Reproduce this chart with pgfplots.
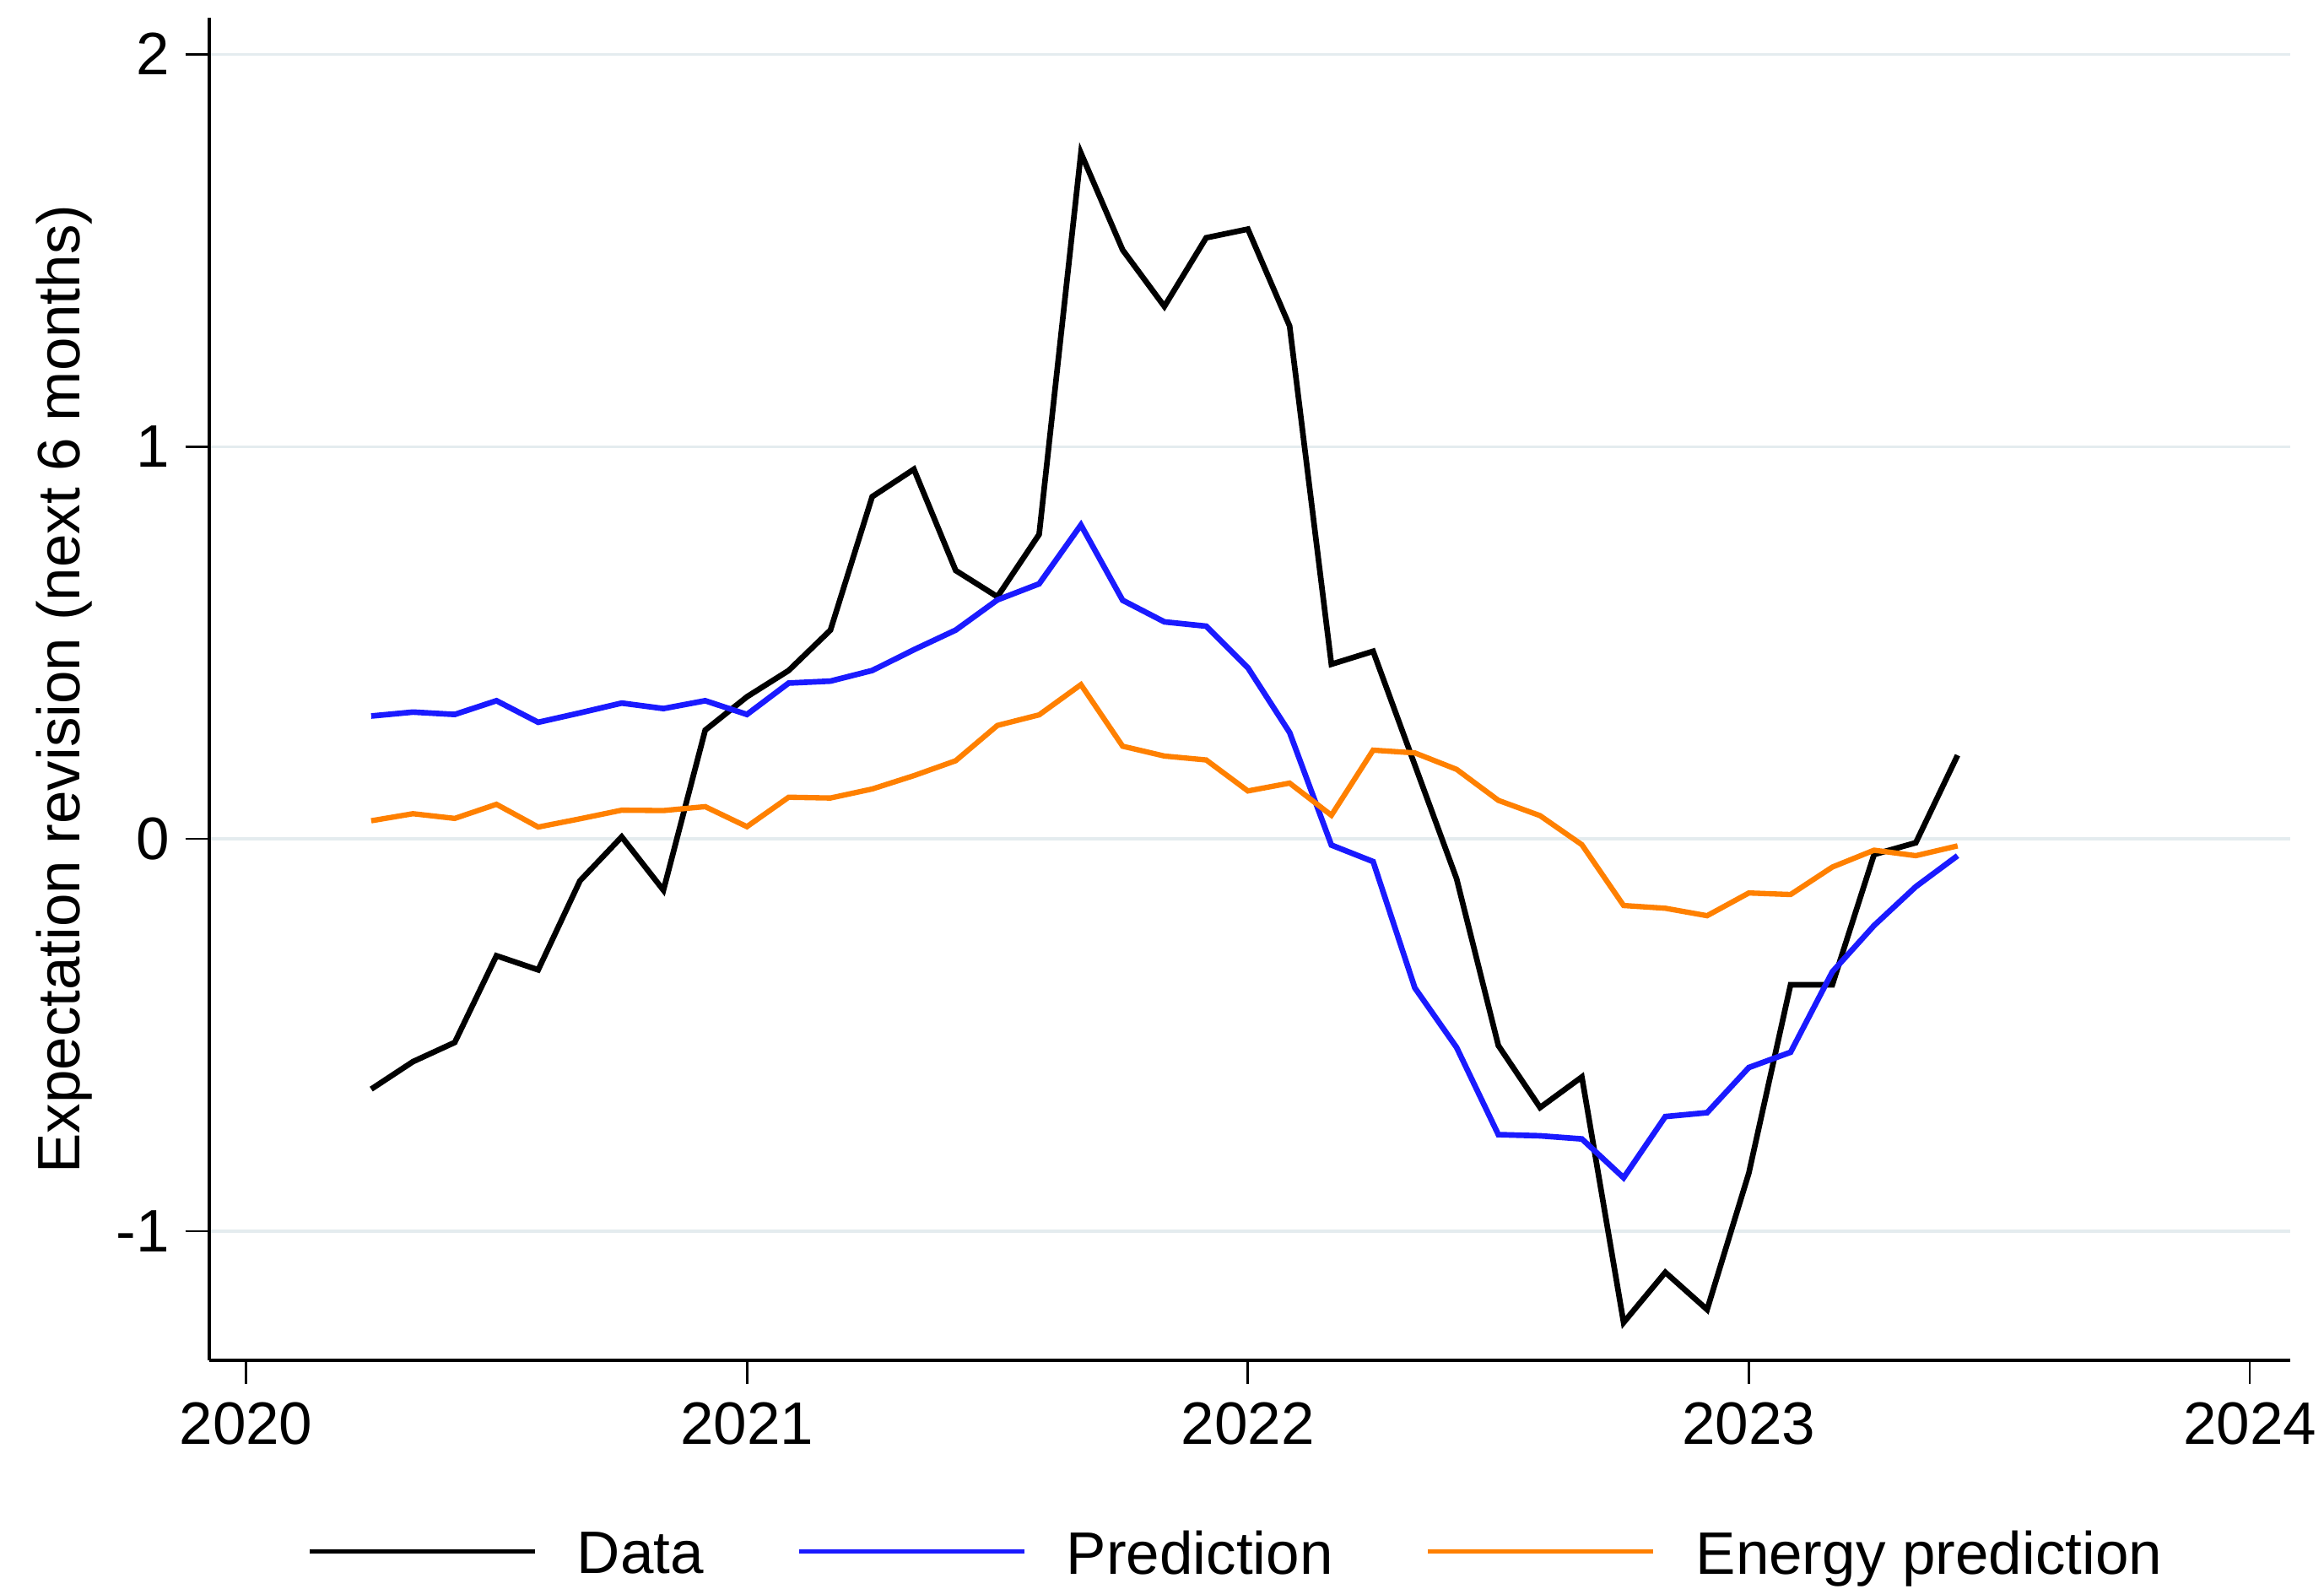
\documentclass[border=0pt]{standalone}
\usepackage{pgfplots}
\pgfplotsset{compat=1.18}
\usepackage{pgfplotstable}
\usepackage{fontspec}
\setmainfont{Liberation Sans}

\definecolor{predBlue}{HTML}{1A1AFF}
\definecolor{enOrange}{HTML}{FF8000}
\definecolor{gridCol}{HTML}{E4ECEF}

% monthly series, t in decimal years
\pgfplotstableread{
t         data    pred    energy
2020.2500 -0.638  0.313   0.046
2020.3333 -0.568  0.323   0.064
2020.4167 -0.519  0.317   0.052
2020.5000 -0.298  0.352   0.088
2020.5833 -0.334  0.297   0.030
2020.6667 -0.107  0.321   0.051
2020.7500  0.005  0.346   0.073
2020.8333 -0.131  0.332   0.072
2020.9167  0.277  0.352   0.082
2021.0000  0.362  0.317   0.031
2021.0833  0.429  0.397   0.106
2021.1667  0.532  0.402   0.104
2021.2500  0.872  0.429   0.127
2021.3333  0.942  0.482   0.161
2021.4167  0.684  0.532   0.199
2021.5000  0.617  0.609   0.289
2021.5833  0.776  0.650   0.316
2021.6667  1.748  0.800   0.393
2021.7500  1.501  0.608   0.236
2021.8333  1.357  0.553   0.211
2021.9167  1.532  0.542   0.201
2022.0000  1.554  0.436   0.122
2022.0833  1.307  0.271   0.142
2022.1667  0.445 -0.016   0.060
2022.2500  0.478 -0.058   0.226
2022.3333  0.188 -0.380   0.219
2022.4167 -0.102 -0.532   0.177
2022.5000 -0.527 -0.754   0.098
2022.5833 -0.685 -0.757   0.059
2022.6667 -0.607 -0.765  -0.015
2022.7500 -1.233 -0.864  -0.170
2022.8333 -1.105 -0.708  -0.177
2022.9167 -1.200 -0.698  -0.196
2023.0000 -0.852 -0.583  -0.138
2023.0833 -0.372 -0.544  -0.142
2023.1667 -0.372 -0.339  -0.072
2023.2500 -0.040 -0.221  -0.029
2023.3333 -0.010 -0.122  -0.043
2023.4167  0.213 -0.043  -0.018
}\revtable

\begin{document}
\begin{tikzpicture}
\begin{axis}[
    scale only axis,
    width=12.33cm, height=7.957cm,
    xmin=2019.926, xmax=2024.080,
    ymin=-1.330, ymax=2.093,
    axis x line*=bottom, axis y line*=left,
    axis line style={line width=0.55pt, -},
    tick align=outside,
    major tick length=0.14cm,
    tick style={line width=0.4pt, black},
    xtick={2020,2021,2022,2023,2024},
    xticklabels={2020,2021,2022,2023,2024},
    ytick={-1,0,1,2},
    yticklabels={-1,0,1,2},
    xticklabel style={anchor=north, inner sep=0pt, yshift=-0.10cm},
    yticklabel style={anchor=east, inner sep=0pt, xshift=-0.088cm},
    ymajorgrids,
    major grid style={gridCol, line width=0.45pt},
    font=\fontsize{10.1}{12}\selectfont,
    every axis y label/.style={at={(axis description cs:-0.062,0.5)}, rotate=90, anchor=base},
    ylabel={Expectation revision (next 6 months)},
    legend columns=-1,
    legend image code/.code={\draw[#1, line width=0.8pt] (0cm,0.035cm) -- (1.335cm,0.035cm);},
    legend style={at={(axis description cs:0.4929,-0.1465)}, anchor=center,
        draw=none, fill=none, inner sep=0pt,
        nodes={inner sep=0pt, anchor=west},
        /tikz/column sep=0.237cm,
        /tikz/every even column/.append style={column sep=0.55cm}},
]
\addplot[black, line width=0.95pt] table[x=t, y=data] {\revtable};
\addplot[predBlue, line width=0.95pt] table[x=t, y=pred] {\revtable};
\addplot[enOrange, line width=0.9pt] table[x=t, y=energy] {\revtable};
\legend{Data, Prediction, Energy prediction}
\coordinate (bbsw) at (axis description cs:-0.1004,-0.170);
\coordinate (bbne) at (axis description cs:1.0164,1.0132);
\end{axis}
\pgfresetboundingbox
\path (bbsw) rectangle (bbne);
\end{tikzpicture}
\end{document}
